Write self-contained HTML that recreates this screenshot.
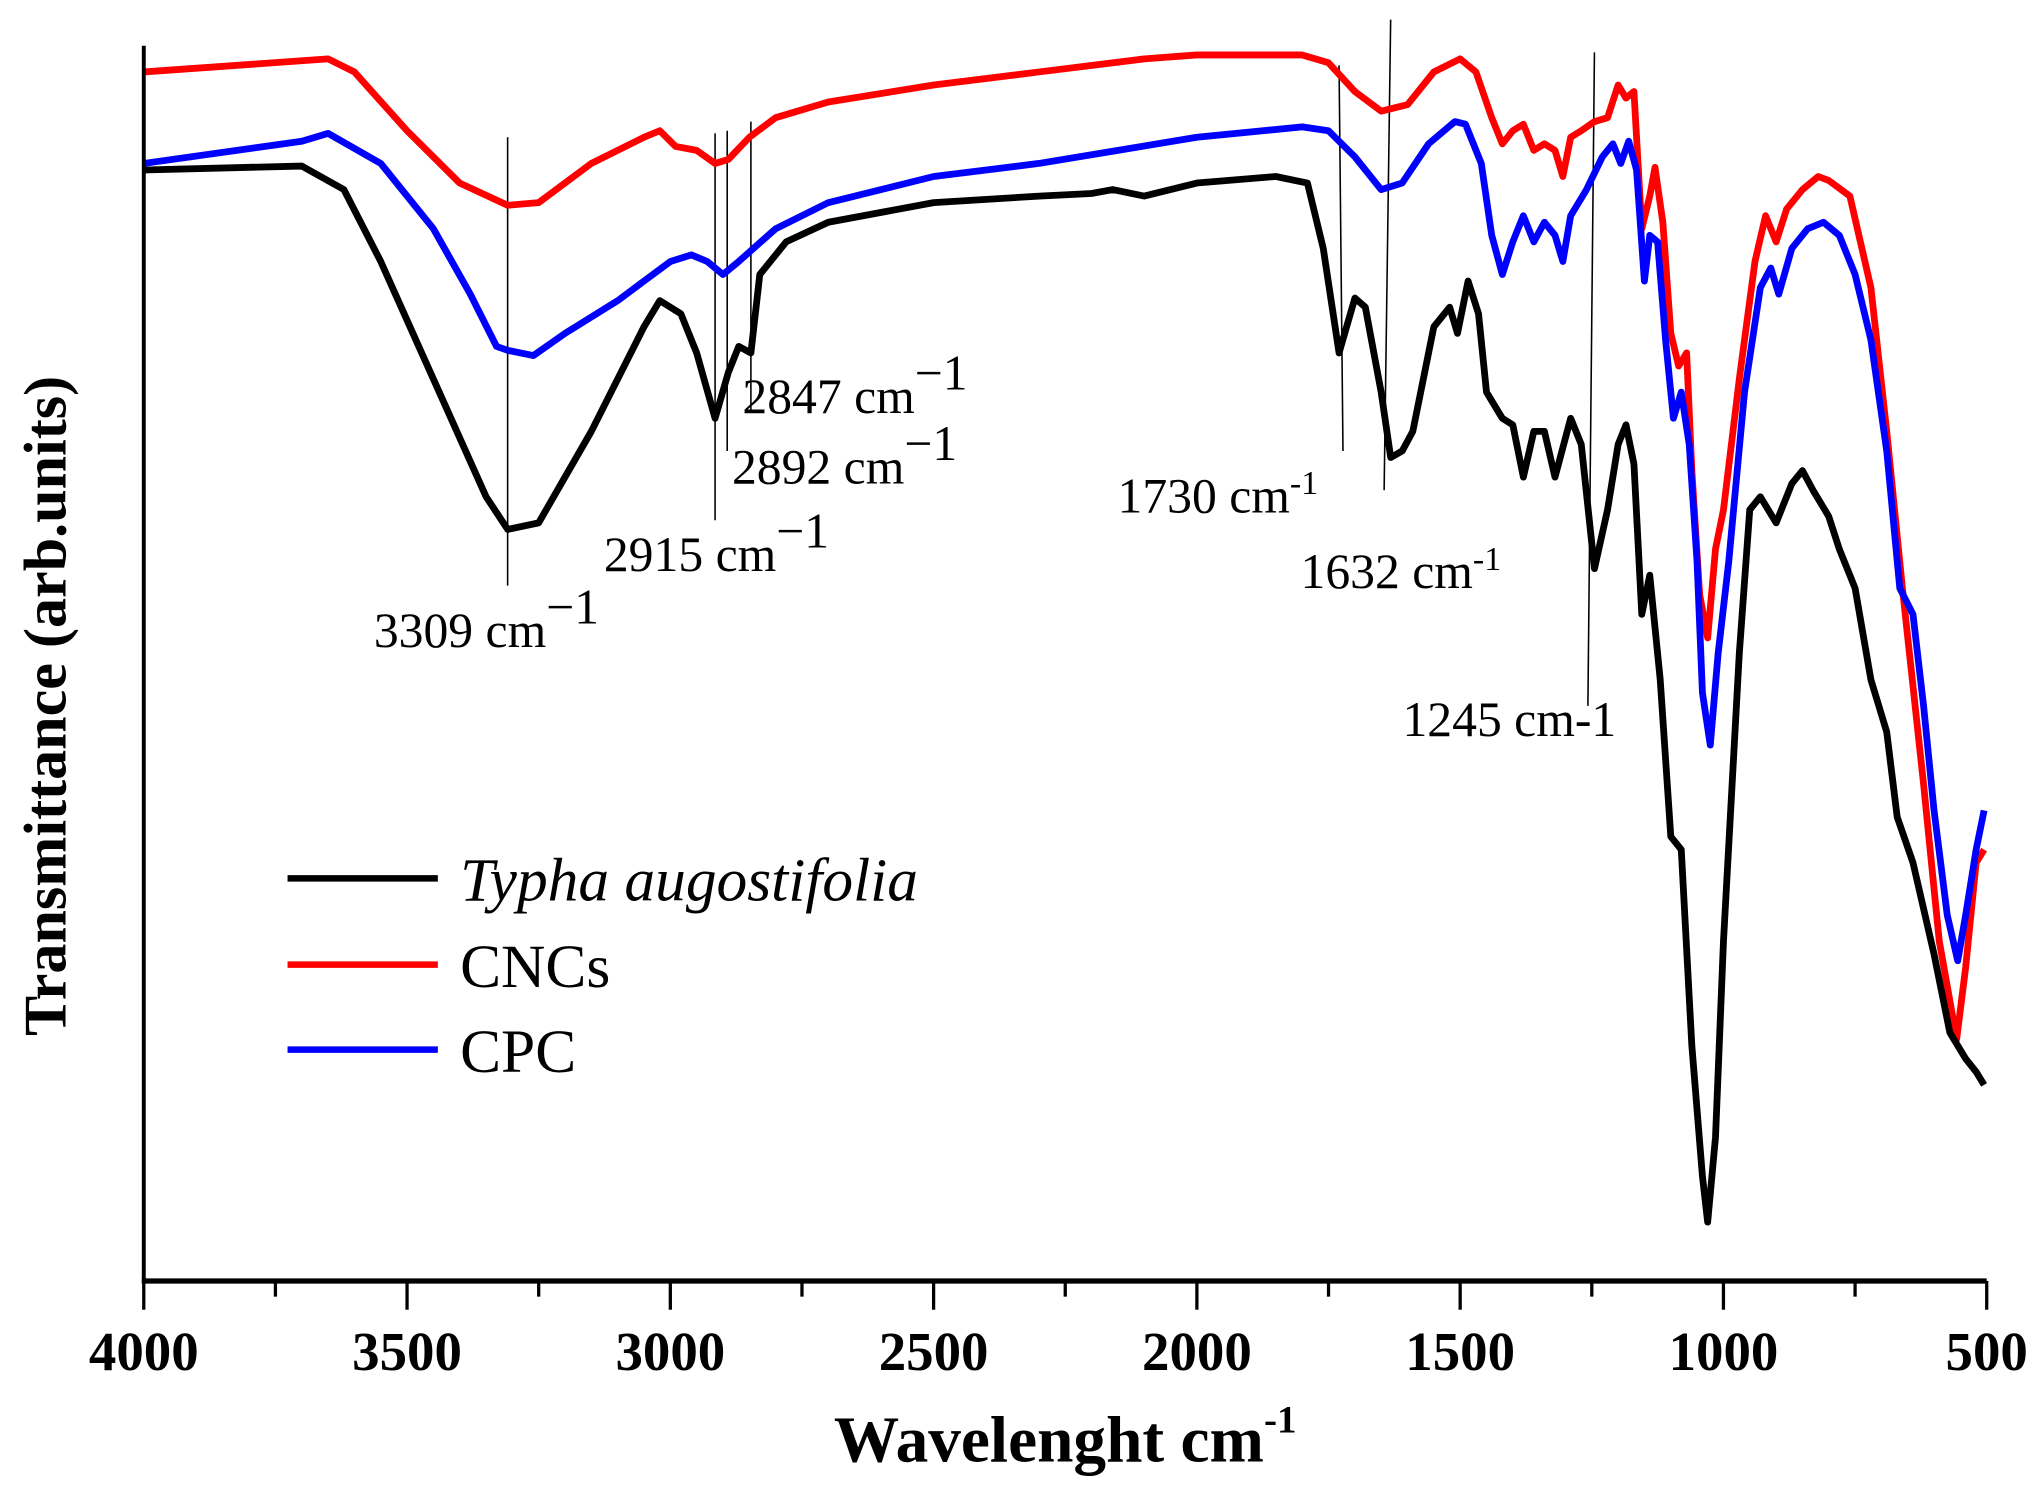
<!DOCTYPE html>
<html><head><meta charset="utf-8"><style>
html,body{margin:0;padding:0;background:#fff;}
svg{display:block;}
text{font-family:"Liberation Serif",serif;}
</style></head><body>
<svg id="chart" width="2039" height="1487" viewBox="0 0 1560 1137.6" xmlns="http://www.w3.org/2000/svg">
<g id="plot"></g>
</svg>
<script>
const ticks = [4000,3500,3000,2500,2000,1500,1000,500];
const minorTicks = [3750,3250,2750,2250,1750,1250,750];
const seriesNames = ["Typha augostifolia","CNCs","CPC"];
const blackWn = [4000,3700,3620,3550,3450,3350,3309,3250,3150,3050,3020,2980,2950,2915,2890,2870,2847,2830,2780,2700,2500,2300,2200,2160,2100,2000,1850,1790,1760,1730,1700,1680,1650,1632,1610,1590,1550,1520,1505,1485,1465,1450,1420,1400,1380,1360,1340,1320,1290,1270,1245,1220,1200,1185,1170,1155,1140,1120,1100,1080,1060,1040,1030,1015,1000,970,950,930,900,870,850,830,800,780,750,720,690,670,640,600,570,540,520,505];
const blackVal = [130,127,145,200,290,380,405,400,330,250,230,240,270,320,285,265,270,210,185,170,155,150,148,145,150,140,135,140,190,270,228,235,300,350,345,330,250,235,255,215,240,300,320,325,365,330,330,365,320,340,435,390,340,325,355,470,440,520,640,650,800,900,935,870,720,500,390,380,400,370,360,375,395,420,450,520,560,625,660,730,790,810,820,830];
const redWn = [4000,3650,3600,3500,3400,3309,3250,3150,3050,3020,2990,2950,2915,2890,2850,2800,2700,2500,2300,2100,2000,1800,1750,1700,1650,1600,1550,1500,1470,1440,1420,1400,1380,1360,1340,1320,1305,1290,1270,1245,1220,1200,1185,1170,1155,1140,1130,1115,1100,1085,1070,1060,1045,1030,1015,1000,970,940,920,900,880,850,820,800,760,720,690,660,620,590,557,540,520,505];
const redVal = [55,45,55,100,140,157,155,125,105,100,112,115,125,122,105,90,78,65,55,45,42,42,48,70,85,80,55,45,55,90,110,100,95,115,110,115,135,105,100,93,90,65,75,70,175,150,128,170,255,280,270,360,455,488,420,390,290,200,165,185,160,145,135,138,150,220,330,450,600,720,795,740,660,650];
const blueWn = [4000,3700,3650,3550,3450,3380,3330,3309,3260,3200,3100,3050,3000,2960,2930,2900,2870,2800,2700,2500,2300,2150,2000,1800,1750,1700,1650,1610,1560,1510,1490,1460,1440,1420,1400,1380,1360,1340,1320,1305,1290,1260,1230,1210,1195,1180,1165,1150,1140,1125,1110,1095,1080,1065,1050,1040,1025,1010,990,960,930,910,895,870,840,810,780,750,720,690,665,640,620,600,575,555,540,520,505];
const blueVal = [125,108,102,125,175,225,265,268,272,255,230,215,200,195,200,210,200,175,155,135,125,115,105,97,100,120,145,140,110,93,95,125,180,210,185,165,185,170,180,200,165,145,120,110,125,108,130,215,180,185,260,320,300,340,430,530,570,500,430,300,220,205,225,190,175,170,180,210,260,345,450,470,540,620,700,735,700,650,620];
const annWn = [3309,2915,2892,2847,1730,1632,1245];

const NS = "http://www.w3.org/2000/svg";
const L = 110, R = 1520, T = 35, B = 980;
function xs(w){ return L + (4000 - w) / 3500 * (R - L); }
function ys(v){ return T + (v - 35) * (B - T) / 945; }
const g = document.getElementById('plot');
function mk(tag, attrs, parent){
  const e = document.createElementNS(NS, tag);
  for (const k in attrs) e.setAttribute(k, attrs[k]);
  (parent || g).appendChild(e);
  return e;
}
const annTop = [105,102,100,93,50,15,40];
const annBot = [448,398,345,315,345,375,540];
const annSlant = [0,0,0,0,3,-5,-5];
annWn.forEach((w,i)=>{
  const ln = mk('line',{x1:xs(w),y1:annTop[i],x2:xs(w)+annSlant[i],y2:annBot[i],stroke:'#000','stroke-width':1.2});
  
  
});
function drawSeries(wn, val, color, name){
  let d = '';
  wn.forEach((w,i)=>{ d += (i?'L':'M') + xs(w).toFixed(1) + ',' + ys(val[i]).toFixed(1); });
  const p = mk('path',{d:d,fill:'none',stroke:color,'stroke-width':5.2,'stroke-linejoin':'round'});
  
  
}
drawSeries(redWn, redVal, '#ff0000', 'cncs-line');
drawSeries(blueWn, blueVal, '#0000ff', 'cpc-line');
drawSeries(blackWn, blackVal, '#000000', 'typha-line');
const ya = mk('line',{x1:L,y1:T,x2:L,y2:B+2,stroke:'#000','stroke-width':3});


const xa = mk('line',{x1:L-1.5,y1:B,x2:R,y2:B,stroke:'#000','stroke-width':4});


ticks.forEach(t=>{
  const tk = mk('line',{x1:xs(t),y1:B,x2:xs(t),y2:B+22,stroke:'#000','stroke-width':2.5});
  
  
  const tx = mk('text',{x:xs(t),y:B+68,'text-anchor':'middle','font-size':42,'font-weight':'bold'});
  tx.textContent = t;
  
  
});
minorTicks.forEach(t=>{
  const tk = mk('line',{x1:xs(t),y1:B,x2:xs(t),y2:B+12,stroke:'#000','stroke-width':2.5});
  
  
});
</script>
<script>
(function(){
const svg = document.getElementById('chart');
const html = `
<text x="815" y="1118" text-anchor="middle" font-size="50" font-weight="bold">Wavelenght cm<tspan dy="-22" font-size="30">-1</tspan></text>
<text transform="translate(50,540) rotate(-90)" text-anchor="middle" font-size="46" font-weight="bold">Transmittance (arb.units)</text>
<text x="286" y="495" font-size="38">3309 cm<tspan dy="-18">−1</tspan></text>
<text x="462" y="437" font-size="38">2915 cm<tspan dy="-18">−1</tspan></text>
<text x="560" y="370" font-size="38">2892 cm<tspan dy="-18">−1</tspan></text>
<text x="568" y="316" font-size="38">2847 cm<tspan dy="-18">−1</tspan></text>
<text x="855" y="392" font-size="38">1730 cm<tspan dy="-14" font-size="26">-1</tspan></text>
<text x="995" y="450" font-size="38">1632 cm<tspan dy="-14" font-size="26">-1</tspan></text>
<text x="1073" y="563" font-size="38">1245 cm-1</text>
<g>
<line x1="220" y1="672" x2="335" y2="672" stroke="#000" stroke-width="5"/>
<text x="352" y="689" font-size="47" font-style="italic">Typha augostifolia</text>
<line x1="220" y1="738" x2="335" y2="738" stroke="#ff0000" stroke-width="5"/>
<text x="352" y="755" font-size="47">CNCs</text>
<line x1="220" y1="803" x2="335" y2="803" stroke="#0000ff" stroke-width="5"/>
<text x="352" y="820" font-size="47">CPC</text>
</g>`;
svg.insertAdjacentHTML('beforeend', html);
})();
</script>
</body></html>
